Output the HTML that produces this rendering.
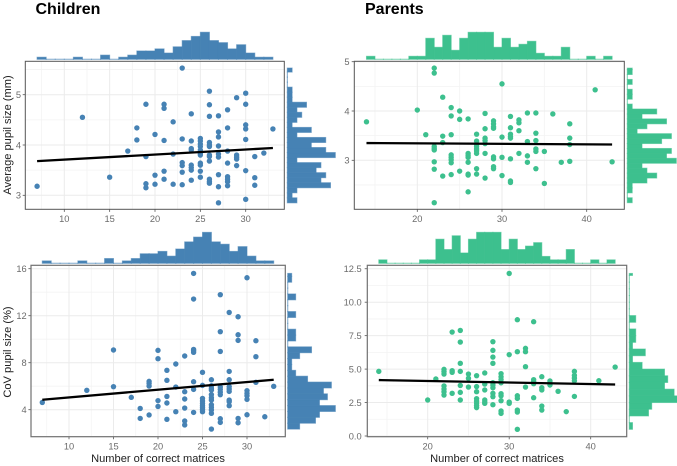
<!DOCTYPE html>
<html>
<head>
<meta charset="utf-8">
<title>Pupil size vs correct matrices</title>
<style>
html,body{margin:0;padding:0;background:#fff;width:677px;height:466px;overflow:hidden}
svg{display:block;font-family:"Liberation Sans",sans-serif}
</style>
</head>
<body>
<svg id="chart" width="677" height="466" viewBox="0 0 677 466" xmlns="http://www.w3.org/2000/svg">
<text x="35.5" y="14" font-size="16" font-weight="bold" fill="#000">Children</text>
<text x="365" y="14" font-size="16" font-weight="bold" fill="#000">Parents</text>
<text transform="translate(11,135) rotate(-90)" text-anchor="middle" font-size="11.1" fill="#222">Average pupil size (mm)</text>
<text transform="translate(11,352) rotate(-90)" text-anchor="middle" font-size="11.1" fill="#222">CoV pupil size (%)</text>
<text x="158" y="462" text-anchor="middle" font-size="11.1" fill="#222">Number of correct matrices</text>
<text x="497" y="462" text-anchor="middle" font-size="11.1" fill="#222">Number of correct matrices</text>
</svg>
<script>
// Children: average pupil size
var childAvgX = [7,12,15,17,18,18,19,19,19,19,20,20,20,21,21,21,21,21,22,22,22,23,23,23,23,23,23,24,24,24,24,24,24,24,24,25,25,25,25,25,25,25,25,25,25,25,26,26,26,26,26,26,26,26,26,26,26,26,27,27,27,27,27,27,27,27,27,28,28,28,28,28,28,28,28,29,29,29,29,29,30,30,30,30,30,30,30,31,31,31,32,33];
var childAvgY = [3.18,4.55,3.36,3.88,4.34,4.10,4.81,3.77,3.23,3.15,4.21,3.40,3.22,4.81,4.73,4.09,3.48,3.32,4.46,3.82,3.22,5.53,4.12,3.65,3.59,3.46,3.21,4.62,4.08,3.93,3.90,3.60,3.55,3.50,3.30,4.13,4.08,4.02,3.97,3.90,3.83,3.80,3.64,3.60,3.48,3.36,5.07,4.80,4.57,4.05,4.00,3.97,3.80,3.77,3.68,3.32,3.27,3.24,4.58,4.26,4.16,3.98,3.82,3.76,3.41,3.17,2.85,4.70,4.34,3.88,3.64,3.37,3.32,3.27,3.19,4.94,3.80,3.76,3.72,3.59,5.03,4.81,4.40,4.32,4.11,3.49,2.92,3.77,3.35,3.20,3.84,4.32];
var childAvgFitX = [7,33];
var childAvgFitY = [3.68,3.94];
var childAvgTopCounts = [1,0,0,0,1,0,0,2,0,1,2,4,4,5,3,6,9,11,13,9,8,5,7,3,1,1];
var childAvgSideCounts = [2,1,2,9,7,8,6,7,2,10,8,5,8,2,5,1,2,3,2,4,1,1,1,0,0,0,1];
var childAvgXTicks = [10,15,20,25,30];
var childAvgYTicks = [3,4,5];
var childAvgXMinor = [7.5,12.5,17.5,22.5,27.5,32.5];
var childAvgYMinor = [3.5,4.5,5.5];

// Parents: average pupil size
var parentAvgX = [14,20,21,22,22,22,22,22,22,22,22,23,23,23,23,24,24,24,24,24,24,24,24,25,25,25,26,26,26,26,26,26,26,26,27,27,27,27,27,27,27,27,27,28,28,28,28,28,28,28,29,29,29,29,29,29,29,29,30,30,30,30,31,31,31,31,31,31,31,31,32,32,32,32,33,33,33,33,34,34,34,34,34,34,35,35,36,37,38,38,38,38,41,43];
var parentAvgY = [3.78,4.02,3.52,4.87,4.77,3.28,3.24,3.21,2.97,2.82,2.14,4.28,3.49,3.36,2.68,4.07,3.90,3.52,3.11,3.06,3.01,2.95,2.71,4.00,3.83,2.78,3.84,3.14,3.10,3.06,2.96,2.72,2.70,2.36,3.53,3.39,3.32,3.28,3.23,3.19,3.14,2.83,2.72,3.95,3.64,3.45,3.40,3.34,3.14,2.64,3.80,3.74,3.68,3.65,3.07,3.03,2.87,2.83,4.55,3.47,3.06,2.69,3.89,3.66,3.53,3.48,3.45,3.03,2.58,2.55,3.82,3.76,3.60,3.14,3.96,3.38,3.09,2.96,3.96,3.55,3.40,3.23,3.18,2.83,3.18,2.53,3.94,2.96,3.74,3.45,3.32,2.98,4.43,2.97];
var parentAvgFitX = [14,43];
var parentAvgFitY = [3.35,3.32];
var parentAvgTopCounts = [1,0,0,0,0,1,1,7,4,8,3,7,9,9,9,4,7,4,5,6,2,1,1,4,0,0,1,0,1];
var parentAvgSideCounts = [1,0,1,1,4,6,4,3,10,8,9,3,7,9,2,4,8,3,6,1,0,1,1,0,1,0,1,1];
var parentAvgXTicks = [20,30,40];
var parentAvgYTicks = [3,4,5];
var parentAvgXMinor = [15,25,35];
var parentAvgYMinor = [2.5,3.5,4.5];

// Children: CoV pupil size
var childCovX = [7,12,15,15,17,18,18,19,19,19,19,20,20,20,20,21,21,21,21,21,22,22,22,23,23,23,23,23,23,24,24,24,24,24,24,24,24,25,25,25,25,25,25,25,25,25,26,26,26,26,26,26,26,26,26,26,26,26,27,27,27,27,27,27,27,27,27,28,28,28,28,28,28,28,28,28,29,29,29,29,29,30,30,30,30,30,30,31,31,31,32,33];
var childCovY = [4.62,5.65,9.08,5.96,5.05,4.11,3.26,6.41,6.24,6.01,3.55,9.05,8.34,4.77,4.28,7.35,6.50,5.13,4.57,3.18,7.89,5.93,3.83,8.57,5.53,4.91,4.14,3.04,2.70,15.6,13.42,9.13,9.02,8.88,6.38,5.73,3.77,7.18,6.07,4.96,4.74,4.54,4.34,4.17,4.00,3.83,6.55,6.04,5.82,5.67,5.28,5.02,4.82,4.42,4.20,3.97,3.69,2.35,13.79,10.64,8.96,5.93,5.73,5.50,5.28,3.23,2.92,12.28,7.26,6.55,5.96,5.76,5.56,4.82,4.68,4.34,11.91,10.38,9.90,3.26,2.89,15.23,5.62,5.39,5.19,4.88,3.57,9.87,8.51,6.33,3.40,5.99];
var childCovFitX = [7,33];
var childCovFitY = [4.85,6.55];
var childCovTopCounts = [1,0,0,0,1,0,0,2,0,1,2,4,4,5,3,6,9,11,13,9,8,5,7,3,1,1];
var childCovSideCounts = [3,7,8,12,8,10,9,11,5,2,1,1,3,6,0,2,2,0,0,2,0,0,2,0,0,1,1];
var childCovXTicks = [10,15,20,25,30];
var childCovYTicks = [4,8,12,16];
var childCovXMinor = [7.5,12.5,17.5,22.5,27.5,32.5];
var childCovYMinor = [6,10,14];

// Parents: CoV pupil size
var parentCovX = [14,20,21,22,22,22,22,22,22,22,23,23,23,23,24,24,24,24,24,24,24,25,25,25,26,26,26,26,26,26,26,26,27,27,27,27,27,27,28,28,28,28,28,28,28,28,28,28,29,29,29,29,29,29,29,29,29,30,30,30,30,31,31,31,31,31,31,31,32,32,32,32,33,33,33,33,33,34,34,34,34,34,35,35,35,36,37,38,38,38,38,38,41,43];
var parentCovY = [4.83,2.69,4.26,4.98,4.81,4.63,3.74,3.51,3.31,3.06,7.77,4.88,4.76,3.19,7.89,7.02,5.43,4.83,3.78,3.26,2.69,4.63,4.31,3.66,4.51,3.69,3.31,2.79,2.61,2.44,2.27,2.12,4.71,3.88,3.44,2.69,2.54,2.44,7.05,6.40,5.90,5.43,3.98,3.81,3.61,3.19,2.94,2.34,4.66,4.43,4.21,3.98,3.16,3.01,2.64,1.87,1.69,12.15,6.08,2.54,2.44,8.69,6.30,3.01,2.81,1.94,1.79,0.50,6.55,6.30,5.18,3.66,8.54,4.21,4.06,3.91,2.86,4.43,3.61,3.44,2.24,1.94,4.11,3.93,3.81,3.34,1.82,4.83,4.53,4.33,4.13,2.96,4.13,5.15];
var parentCovFitX = [14,43];
var parentCovFitY = [4.18,3.85];
var parentCovTopCounts = [1,0,0,0,0,1,1,7,4,8,3,7,9,9,9,4,7,4,5,6,2,1,1,4,0,0,1,0,1];
var parentCovSideCounts = [1,0,6,7,15,14,11,12,11,4,1,5,1,2,2,0,2,0,0,0,0,0,0,1];
var parentCovXTicks = [20,30,40];
var parentCovYTicks = [0,2.5,5,7.5,10,12.5];
var parentCovYTickLabels = ["0.0","2.5","5.0","7.5","10.0","12.5"];
var parentCovXMinor = [15,25,35];
var parentCovYMinor = [1.25,3.75,6.25,8.75,11.25];

var panels = [
  {id:'children-average', color:'#4682b4', left:25.3, right:284.3, top:61.3, bottom:209.3,
   xAt:64.3, xRef:10, xK:9.07, yAt:195.3, yRef:3, yK:-50.3,
   xs:childAvgX, ys:childAvgY, fitX:childAvgFitX, fitY:childAvgFitY,
   topCounts:childAvgTopCounts, sideCounts:childAvgSideCounts, xBin:1, yBin:0.1,
   topZero:59.3, topUnit:2.08, sideZero:287.3, sideUnit:4.8,
   xTicks:childAvgXTicks, yTicks:childAvgYTicks, xMinor:childAvgXMinor, yMinor:childAvgYMinor,
   yLabels:null, labelRight:21, xLabelY:221.8, border:'#555', borderW:1},
  {id:'parents-average', color:'#3dc08e', left:354.3, right:624.3, top:61.3, bottom:209.3,
   xAt:417.3, xRef:20, xK:8.47, yAt:160.3, yRef:3, yK:-49.3,
   xs:parentAvgX, ys:parentAvgY, fitX:parentAvgFitX, fitY:parentAvgFitY,
   topCounts:parentAvgTopCounts, sideCounts:parentAvgSideCounts, xBin:1, yBin:0.1,
   topZero:59.3, topUnit:3.0, sideZero:627.3, sideUnit:4.9,
   xTicks:parentAvgXTicks, yTicks:parentAvgYTicks, xMinor:parentAvgXMinor, yMinor:parentAvgYMinor,
   yLabels:null, labelRight:349.5, xLabelY:221.8, border:'#555', borderW:1},
  {id:'children-cov', color:'#4682b4', left:31, right:285.3, top:265.3, bottom:436.7,
   xAt:69, xRef:10, xK:8.9, yAt:409.7, yRef:4, yK:-11.75,
   xs:childCovX, ys:childCovY, fitX:childCovFitX, fitY:childCovFitY,
   topCounts:childCovTopCounts, sideCounts:childCovSideCounts, xBin:1, yBin:0.5,
   topZero:263.3, topUnit:2.38, sideZero:287.7, sideUnit:3.97,
   xTicks:childCovXTicks, yTicks:childCovYTicks, xMinor:childCovXMinor, yMinor:childCovYMinor,
   yLabels:null, labelRight:26.7, xLabelY:449.3, border:'#707070', borderW:1.2},
  {id:'parents-cov', color:'#3dc08e', left:367.3, right:626.7, top:265.3, bottom:436.7,
   xAt:427.7, xRef:20, xK:8.15, yAt:436, yRef:0, yK:-13.38,
   xs:parentCovX, ys:parentCovY, fitX:parentCovFitX, fitY:parentCovFitY,
   topCounts:parentCovTopCounts, sideCounts:parentCovSideCounts, xBin:1, yBin:0.5,
   topZero:263.3, topUnit:3.44, sideZero:629.3, sideUnit:3.2,
   xTicks:parentCovXTicks, yTicks:parentCovYTicks, xMinor:parentCovXMinor, yMinor:parentCovYMinor,
   yLabels:parentCovYTickLabels, labelRight:361.7, xLabelY:449.3, border:'#707070', borderW:1.2}
];

var svg = document.getElementById('chart');
function mk(tag, attrs, name) {
  var el = document.createElementNS('http://www.w3.org/2000/svg', tag);
  for (var k in attrs) { el.setAttribute(k, attrs[k]); }
  
  
  svg.appendChild(el);
  return el;
}

panels.forEach(function (p) {
  function x(v) { return p.xAt + (v - p.xRef) * p.xK; }
  function y(v) { return p.yAt + (v - p.yRef) * p.yK; }

  // panel background
  mk('rect', {x:p.left, y:p.top, width:p.right - p.left, height:p.bottom - p.top, fill:'#fff'}, p.id + '-panel');

  // minor grid
  p.xMinor.forEach(function (v) {
    mk('line', {x1:x(v), x2:x(v), y1:p.top, y2:p.bottom, stroke:'#f3f3f3', 'stroke-width':0.8}, p.id + '-minor-gridline-x');
  });
  p.yMinor.forEach(function (v) {
    mk('line', {x1:p.left, x2:p.right, y1:y(v), y2:y(v), stroke:'#f3f3f3', 'stroke-width':0.8}, p.id + '-minor-gridline-y');
  });

  // major grid, ticks and labels
  p.xTicks.forEach(function (v) {
    mk('line', {x1:x(v), x2:x(v), y1:p.top, y2:p.bottom, stroke:'#ebebeb', 'stroke-width':1}, p.id + '-gridline-x');
    mk('line', {x1:x(v), x2:x(v), y1:p.bottom, y2:p.bottom + 2.6, stroke:'#555', 'stroke-width':0.8}, p.id + '-tick-x');
    var t = mk('text', {x:x(v), y:p.xLabelY, 'text-anchor':'middle', 'font-size':9.3, fill:'#6b6b6b'}, p.id + '-tick-label-x');
    t.textContent = String(v);
  });
  p.yTicks.forEach(function (v, i) {
    mk('line', {x1:p.left, x2:p.right, y1:y(v), y2:y(v), stroke:'#ebebeb', 'stroke-width':1}, p.id + '-gridline-y');
    mk('line', {x1:p.left - 2.6, x2:p.left, y1:y(v), y2:y(v), stroke:'#555', 'stroke-width':0.8}, p.id + '-tick-y');
    var t = mk('text', {x:p.labelRight, y:y(v) + 3.3, 'text-anchor':'end', 'font-size':9.3, fill:'#6b6b6b'}, p.id + '-tick-label-y');
    t.textContent = p.yLabels ? p.yLabels[i] : String(v);
  });

  // scatter points
  p.xs.forEach(function (v, i) {
    mk('circle', {cx:x(v), cy:y(p.ys[i]), r:2.7, fill:p.color}, p.id + '-point');
  });

  // regression line
  mk('line', {x1:x(p.fitX[0]), y1:y(p.fitY[0]), x2:x(p.fitX[1]), y2:y(p.fitY[1]), stroke:'#000', 'stroke-width':2.3}, p.id + '-regression-line');

  // panel border
  mk('rect', {x:p.left, y:p.top, width:p.right - p.left, height:p.bottom - p.top, fill:'none', stroke:p.border, 'stroke-width':p.borderW}, p.id + '-panel-border');

  // top marginal histogram (zero-count bins still draw their thin outline)
  var xMin = Math.min.apply(null, p.xs);
  p.topCounts.forEach(function (c, i) {
    var x0 = x(xMin + i * p.xBin), x1 = x(xMin + (i + 1) * p.xBin);
    var h = Math.max(c * p.topUnit, 0.1);
    mk('rect', {x:x0, y:p.topZero - h, width:x1 - x0, height:h, fill:p.color, stroke:p.color, 'stroke-opacity':0.6, 'stroke-width':1}, p.id + '-top-histogram-bar');
  });

  // right marginal histogram
  var yMin = Math.min.apply(null, p.ys);
  var yMax = Math.max.apply(null, p.ys);
  p.sideCounts.forEach(function (c, i) {
    var lo = yMin + i * p.yBin;
    var hi = Math.min(yMin + (i + 1) * p.yBin, yMax);
    var w = Math.max(c * p.sideUnit, 0.1);
    mk('rect', {x:p.sideZero, y:y(hi), width:w, height:y(lo) - y(hi), fill:p.color, stroke:p.color, 'stroke-opacity':0.6, 'stroke-width':1}, p.id + '-side-histogram-bar');
  });
});
</script>
</body>
</html>
